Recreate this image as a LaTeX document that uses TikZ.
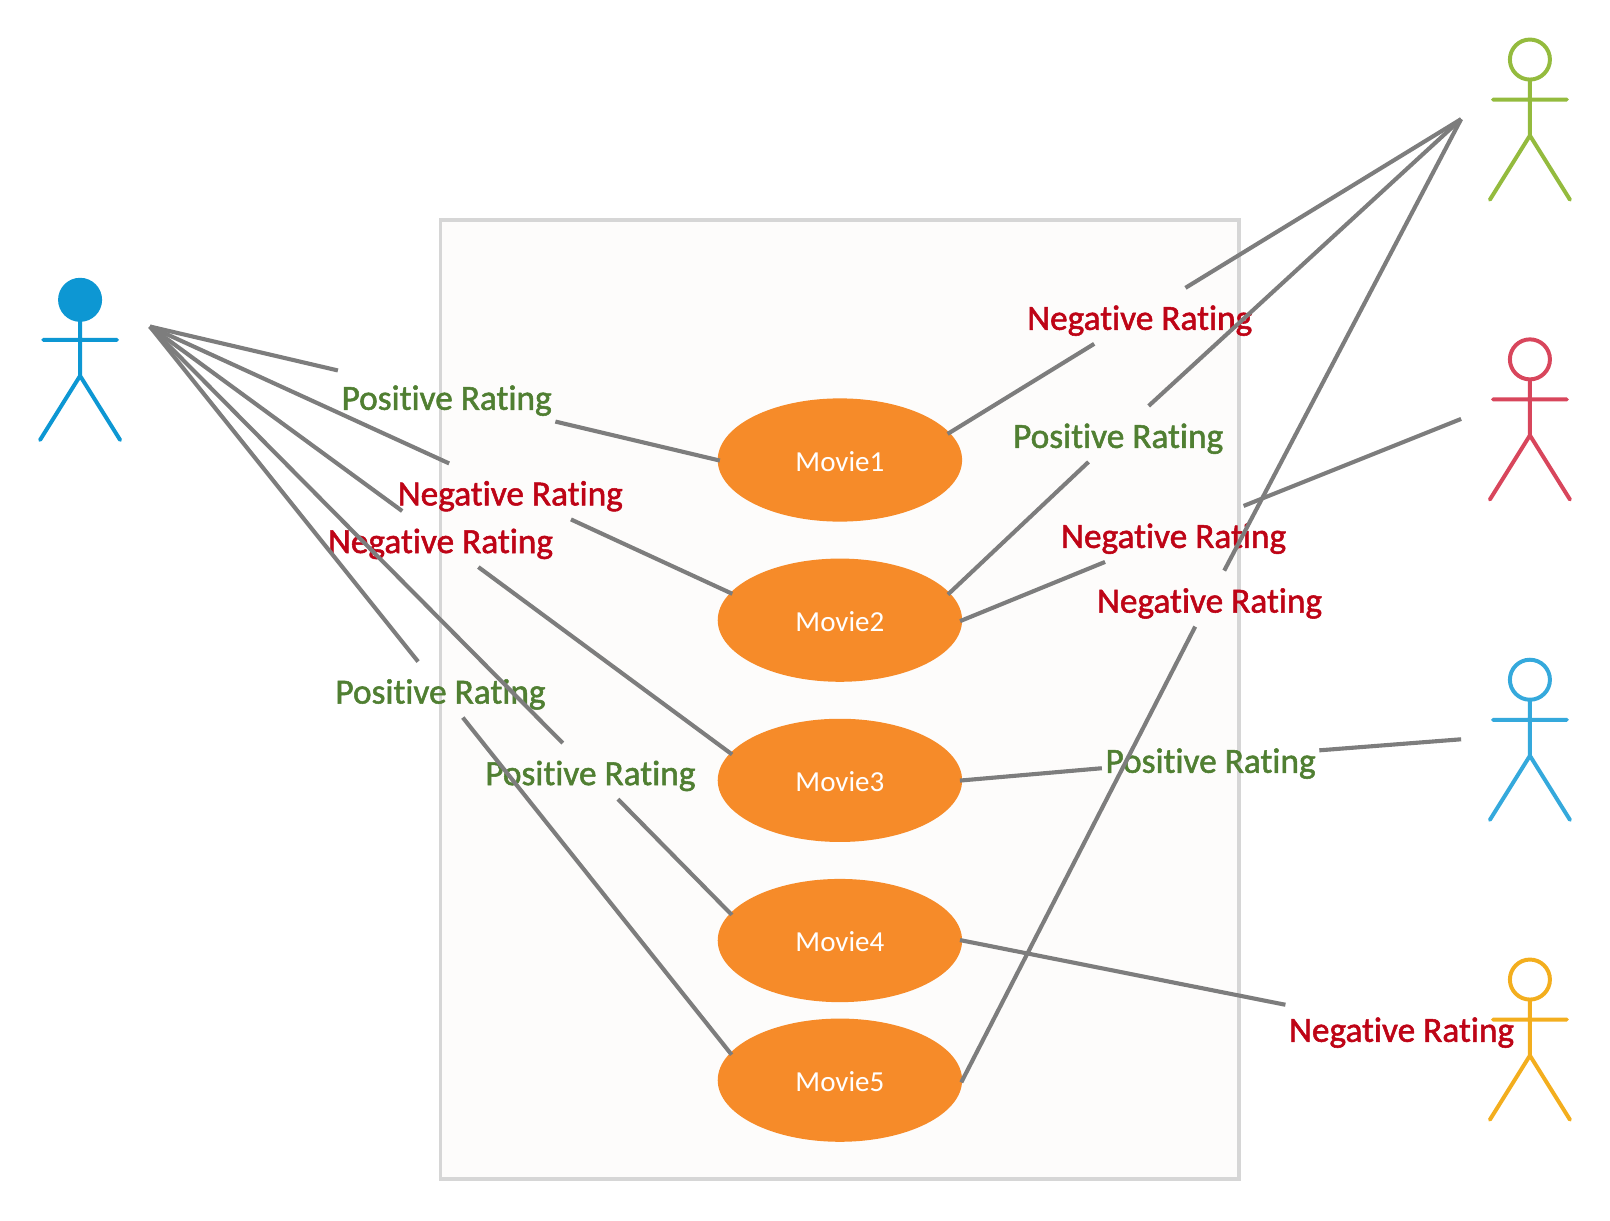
\documentclass[tikz,border=0pt]{standalone}
\usepackage{fontspec}
\setmainfont{Carlito}
\newfontfamily\ratingfont[FakeBold=1.5,Ligatures=NoCommon]{Carlito}
\usetikzlibrary{shapes.geometric}

\definecolor{orangeMovie}{RGB}{246,139,41}
\definecolor{greenRating}{RGB}{80,127,50}
\definecolor{redRating}{RGB}{190,4,22}
\definecolor{grayLink}{RGB}{125,125,125}
\definecolor{grayBox}{RGB}{214,214,214}
\definecolor{fillBox}{RGB}{253,252,251}
\definecolor{blueActor}{RGB}{13,151,211}
\definecolor{greenActor}{RGB}{148,187,62}
\definecolor{redActor}{RGB}{216,70,92}
\definecolor{skyActor}{RGB}{53,169,220}
\definecolor{yellowActor}{RGB}{243,174,30}

\tikzset{
  sysbox/.style={draw=grayBox,fill=fillBox,line width=2.8pt,minimum width=583.5pt,minimum height=700.5pt,inner sep=0pt},
  movie/.style={ellipse,fill=orangeMovie,text=white,font=\fontsize{21.2}{24}\selectfont,text height=16.2pt,text depth=0pt,minimum width=178.5pt,minimum height=90pt,inner sep=0pt},
  link/.style={draw=grayLink,line width=3pt,shorten >=-1.8pt},
  rating/.style={font=\ratingfont\fontsize{25.8}{28}\selectfont,text height=23.5pt,text depth=3.1pt,inner xsep=2.5pt,inner ysep=0pt,minimum height=40.5pt},
  posrating/.style={rating,text=greenRating},
  negrating/.style={rating,text=redRating},
  pics/actor/.style n args={2}{code={
    \draw[draw=#1,fill=#2,line width=2.9pt] (0,0) circle (19.5);
    \draw[draw=#1,line width=2.9pt,line cap=round] (0,20) -- (0,74) (-36,39) -- (36,39) (-39,136.5) -- (0,74) -- (39,136.5);
  }},
}

\begin{document}
\begin{tikzpicture}[x=0.75pt,y=0.75pt,yscale=-1,xscale=1]
\useasboundingbox (0,0) rectangle (1568,1188.2);

% System box
\node [sysbox] (system) at (818,681) {};

% Actors
\pic [transform shape] (actorA) at (78,292) {actor={blueActor}{blueActor}};
\pic [transform shape] (actorB) at (1490,58) {actor={greenActor}{white}};
\pic [transform shape] (actorC) at (1490,350) {actor={redActor}{white}};
\pic [transform shape] (actorD) at (1490,662) {actor={skyActor}{white}};
\pic [transform shape] (actorE) at (1490,954) {actor={yellowActor}{white}};

\coordinate (userA) at (146,318);
\coordinate (userB) at (1423,116);
\coordinate (userC) at (1423,408);
\coordinate (userD) at (1423,720);

% Movies
\node [movie] (movie1) at (818,448) {Movie1};
\node [movie] (movie2) at (818,604) {Movie2};
\node [movie] (movie3) at (818,760) {Movie3};
\node [movie] (movie4) at (818,916) {Movie4};
\node [movie] (movie5) at (818,1052) {Movie5};

% Ratings
\node [posrating] (ratingA1) at (435,385.5) {Positive Rating};
\node [negrating] (ratingA2) at (497,478.6) {Negative Rating};
\node [negrating] (ratingA3) at (429,525) {Negative Rating};
\node [posrating] (ratingA4) at (575,751) {Positive Rating};
\node [posrating] (ratingA5) at (429,671.6) {Positive Rating};
\node [negrating] (ratingB1) at (1110,307.6) {Negative Rating};
\node [posrating] (ratingB2) at (1089,422.6) {Positive Rating};
\node [negrating] (ratingB5) at (1178,583) {Negative Rating};
\node [negrating] (ratingC2) at (1143,520) {Negative Rating};
\node [posrating] (ratingD3) at (1179,739) {Positive Rating};
\node [negrating] (ratingE4) at (1365,1001) {Negative Rating};

% Links
\draw [link] (userA) -- (ratingA1) -- (movie1.west);
\draw [link] (userA) -- (ratingA2) -- (movie2.166);
\draw [link] (userA) -- (ratingA3) -- (movie3.166);
\draw [link] (userA) -- (ratingA4) -- (movie4.166);
\draw [link] (userA) -- (ratingA5) -- (movie5.166);
\draw [link] (userB) -- (ratingB1) -- (movie1.14);
\draw [link] (userB) -- (ratingB2) -- (movie2.14);
\draw [link] (userB) -- (ratingB5) -- (movie5.east);
\draw [link] (userC) -- (ratingC2) -- (movie2.east);
\draw [link] (userD) -- (ratingD3) -- (movie3.east);
\draw [link] (ratingE4) -- (movie4.east);

\end{tikzpicture}
\end{document}
